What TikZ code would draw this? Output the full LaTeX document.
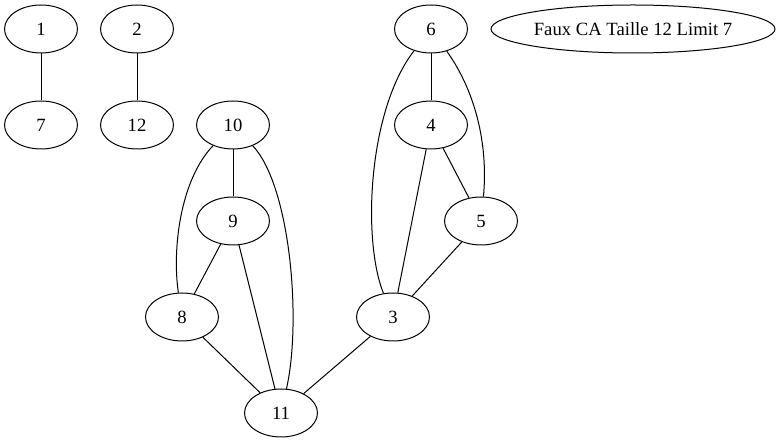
\documentclass[tikz,border=0pt]{standalone}
\usepackage{fontspec}
\setmainfont{Liberation Serif}
\usetikzlibrary{shapes.geometric}
\begin{document}
\begin{tikzpicture}[x=1pt,y=-1pt,
  vertex/.style={draw,ellipse,line width=1pt,minimum width=73pt,minimum height=48pt,inner sep=0pt,
    font=\fontsize{18.67}{22}\selectfont},
  link/.style={line width=1pt}]
\useasboundingbox (0,0) rectangle (780,443);
% nodes, one rank every 96 units
\node[vertex] (n1)  at (41,29)   {1};
\node[vertex] (n7)  at (41,125)  {7};
\node[vertex] (n2)  at (137,29)  {2};
\node[vertex] (n12) at (137,125) {12};
\node[vertex] (n10) at (233,125) {10};
\node[vertex] (n9)  at (233,221) {9};
\node[vertex] (n8)  at (182,317) {8};
\node[vertex] (n11) at (281,413) {11};
\node[vertex] (n6)  at (431,29)  {6};
\node[vertex] (n4)  at (431,125) {4};
\node[vertex] (n5)  at (481,221) {5};
\node[vertex] (n3)  at (393,317) {3};
\node[vertex,minimum width=284pt] (lbl) at (633,29) {Faux CA Taille 12 Limit 7};
% straight edges
\draw[link] (n1) -- (n7);
\draw[link] (n2) -- (n12);
\draw[link] (n10) -- (n9);
\draw[link] (n9) -- (n8);
\draw[link] (n9) -- (n11);
\draw[link] (n8) -- (n11);
\draw[link] (n3) -- (n11);
\draw[link] (n6) -- (n4);
\draw[link] (n4) -- (n3);
\draw[link] (n4) -- (n5);
\draw[link] (n5) -- (n3);
% curved edges
\draw[link] (n10) .. controls (180,180) and (172,250) .. (n8);
\draw[link] (n10) .. controls (290,185) and (302,320) .. (n11);
\draw[link] (n6) .. controls (368,110) and (362,240) .. (n3);
\draw[link] (n6) .. controls (478,95) and (488,150) .. (n5);
\end{tikzpicture}
\end{document}
